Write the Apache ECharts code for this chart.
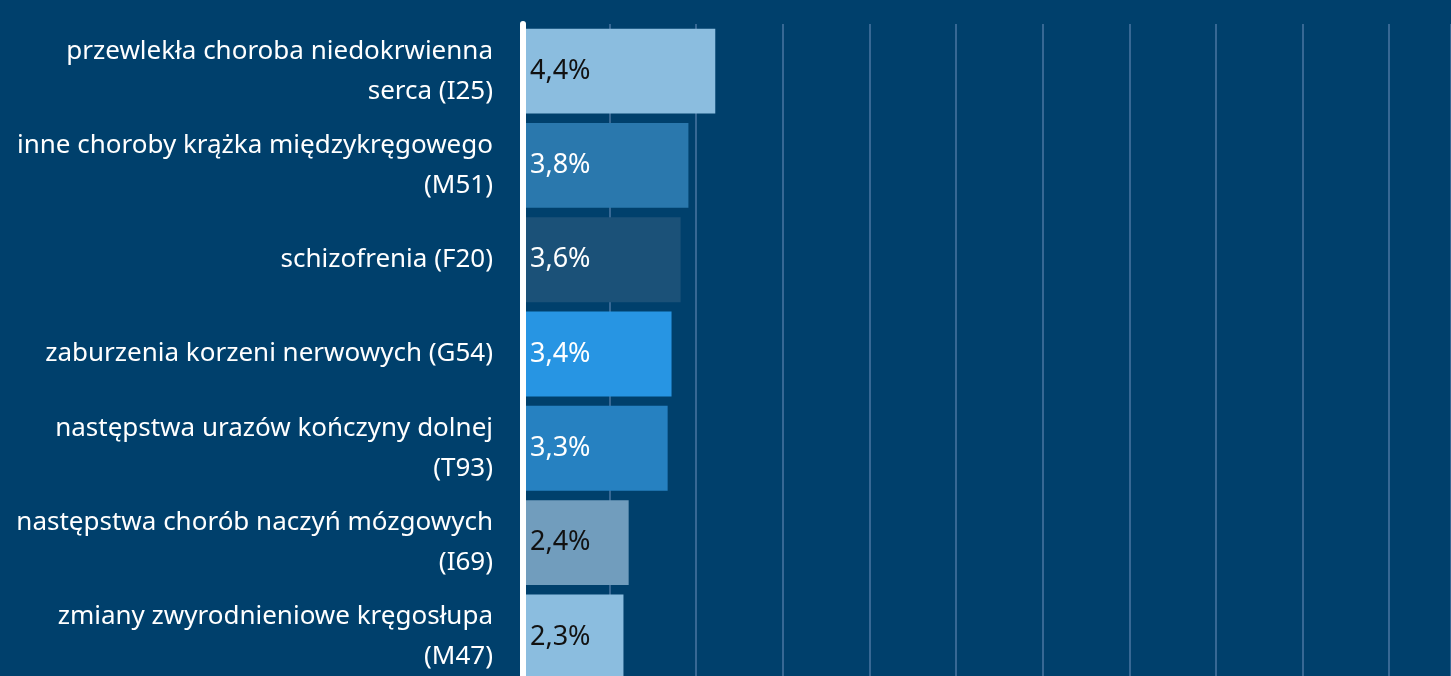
<!DOCTYPE html>
<html>
<head>
<meta charset="utf-8">
<style>
  html, body { margin: 0; padding: 0; background: #00406c; overflow: hidden; }
  #chart { width: 1451px; height: 690px; }
</style>
<script src="https://cdn.jsdelivr.net/npm/echarts@6/dist/echarts.min.js"></script>
</head>
<body>
<div id="chart"></div>
<script>
// categories, top to bottom
const categories = [
    'przewlekła choroba niedokrwienna\nserca (I25)',
    'inne choroby krążka międzykręgowego\n(M51)',
    'schizofrenia (F20)',
    'zaburzenia korzeni nerwowych (G54)',
    'następstwa urazów kończyny dolnej\n(T93)',
    'następstwa chorób naczyń mózgowych\n(I69)',
    'zmiany zwyrodnieniowe kręgosłupa\n(M47)'
];
// share in %
const values = [4.44, 3.82, 3.64, 3.43, 3.34, 2.44, 2.32];
const barColors = ['#8bbddf', '#2a78ad', '#1b5178', '#2795e3', '#2681c1', '#719dbd', '#8bbddf'];
const labelColors = ['#111111', '#ffffff', '#ffffff', '#ffffff', '#ffffff', '#111111', '#111111'];

const chart = echarts.init(document.getElementById('chart'), null, { renderer: 'canvas' });

const option = {
    backgroundColor: '#00406c',
    animation: false,
    grid: {
        left: 523,
        right: 0,
        top: 24,
        bottom: 6,
        containLabel: false
    },
    xAxis: {
        type: 'value',
        min: 0,
        max: 21.43,
        interval: 2,
        axisLine: { show: false },
        axisTick: { show: false },
        axisLabel: { show: false },
        splitLine: {
            show: true,
            lineStyle: { color: '#376894', width: 2 }
        }
    },
    yAxis: {
        type: 'category',
        inverse: true,
        offset: 2,
        z: 5,
        data: categories,
        axisTick: { show: false },
        axisLine: {
            show: true,
            lineStyle: { color: '#ffffff', width: 6 }
        },
        axisLabel: {
            color: '#ffffff',
            fontFamily: 'Noto Sans',
            fontSize: 26,
            lineHeight: 40,
            margin: 28,
            align: 'right'
        }
    },
    series: [{
        type: 'bar',
        barCategoryGap: '10%',
        data: values.map(function (v, i) {
            return {
                value: v,
                itemStyle: { color: barColors[i] },
                label: { color: labelColors[i] }
            };
        }),
        label: {
            show: true,
            position: 'insideLeft',
            distance: 7,
            fontFamily: 'Noto Sans',
            fontSize: 27,
            formatter: function (p) {
                return p.value.toFixed(1).replace('.', ',') + '%';
            }
        }
    }]
};

chart.setOption(option);
</script>
</body>
</html>
